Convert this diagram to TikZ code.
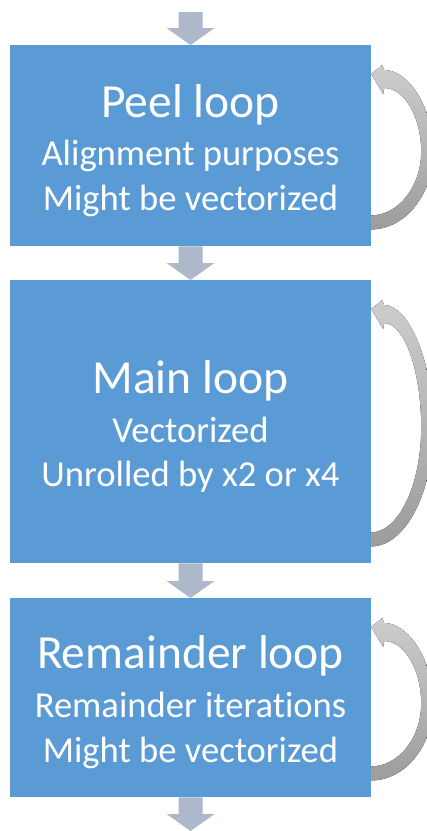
\documentclass[tikz,border=0pt]{standalone}
\usepackage{fontspec}
\setmainfont{Carlito}[Ligatures=NoCommon]
\usetikzlibrary{calc}

\definecolor{boxblue}{HTML}{5B9BD5}
\definecolor{flowgray}{HTML}{ADB9CA}
\definecolor{looplight}{HTML}{CDCDCD}
\definecolor{loopmid}{HTML}{C0C0C0}
\definecolor{loopdark}{HTML}{9C9C9C}

\tikzset{
  stage/.style={fill=boxblue, draw=none, minimum width=361, inner sep=0pt, anchor=north},
  title/.style={text=white, font=\fontsize{47.5}{52}\selectfont, anchor=base, inner sep=0pt},
  detail/.style={text=white, font=\fontsize{36.6}{40}\selectfont, anchor=base, inner sep=0pt},
  flow/.style={fill=flowgray, draw=none},
  loopback/.style={top color=looplight, middle color=loopmid, bottom color=loopdark, draw=none},
}

% block arrow pointing down, from shaft start #1 to tip #2
\newcommand\flowarrow[2]{%
  \fill[flow] ($(#1)+(-12,0)$) -- ($(#2)+(-12,-17)$) -- ($(#2)+(-24,-17)$) -- (#2)
    -- ($(#2)+(24,-17)$) -- ($(#2)+(12,-17)$) -- ($(#1)+(12,0)$) -- cycle;
}

% curved arrow on the right side of a stage, leaving near its bottom
% and coming back in near its top
\newcommand\loopmark[1]{%
  \coordinate (#1-T)  at ($(#1.north east)+(0,29)$);
  \coordinate (#1-Ob) at ($(#1.south east)+(0,-17)$);
  \coordinate (#1-Ib) at ($(#1-Ob)+(0,-14)$);
  \coordinate (#1-Ot) at ($(#1-T)+(13,-4)$);
  \coordinate (#1-It) at ($(#1-T)+(13,14)$);
  \coordinate (#1-Hu) at ($(#1-T)+(11,-9)$);
  \coordinate (#1-Hl) at ($(#1-T)+(12,20)$);
  \coordinate (#1-C)  at ($(#1-T)!0.5!(#1-Ob)$);
  \coordinate (#1-Om) at ($(#1-C)+(62,0)$);
  \coordinate (#1-Im) at ($(#1-C)+(50,0)$);
  \fill[loopback] (#1-Ob)
    .. controls +(34,0) and ($(#1-Om)!0.55!(#1-Om|-#1-Ob)$) .. (#1-Om)
    .. controls ($(#1-Om)!0.55!(#1-Om|-#1-Ot)$) and +(24,0) .. (#1-Ot)
    -- (#1-Hu) -- (#1-T) -- (#1-Hl) -- (#1-It)
    .. controls +(20,0) and ($(#1-Im)!0.55!(#1-Im|-#1-It)$) .. (#1-Im)
    .. controls ($(#1-Im)!0.55!(#1-Im|-#1-Ib)$) and +(27,0) .. (#1-Ib)
    -- cycle;
}

\begin{document}
\begin{tikzpicture}[x=1pt, y=-1pt]
  \useasboundingbox (0,0) rectangle (427,831);
  \clip (0,0) rectangle (427,831);

  % stages
  \node[stage, minimum height=201] (peel) at (190.5,45) {};
  \node[stage, minimum height=283] (main) at (190.5,280) {};
  \node[stage, minimum height=199] (rem)  at (190.5,598) {};

  \node[title]  (peel-t)  at ($(peel.north)+(0,72)$)  {Peel loop};
  \node[detail] (peel-d1) at ($(peel.north)+(0,120)$) {Alignment purposes};
  \node[detail] (peel-d2) at ($(peel.north)+(0,165)$) {Might be vectorized};

  \node[title]  (main-t)  at ($(main.north)+(0,113)$) {Main loop};
  \node[detail] (main-d1) at ($(main.north)+(0,162)$) {Vectorized};
  \node[detail] (main-d2) at ($(main.north)+(0,206)$) {Unrolled by x2 or x4};

  \node[title]  (rem-t)  at ($(rem.north)+(0,70)$)  {Remainder loop};
  \node[detail] (rem-d1) at ($(rem.north)+(0,119)$) {Remainder iterations};
  \node[detail] (rem-d2) at ($(rem.north)+(0,164)$) {Might be vectorized};

  % flow between stages
  \coordinate (entry) at (190.5,12);
  \coordinate (exit)  at (190.5,831);
  \flowarrow{entry}{peel.north}
  \flowarrow{peel.south}{main.north}
  \flowarrow{main.south}{rem.north}
  \flowarrow{rem.south}{exit}

  % repetition of each stage
  \loopmark{peel}
  \loopmark{main}
  \loopmark{rem}
\end{tikzpicture}
\end{document}
